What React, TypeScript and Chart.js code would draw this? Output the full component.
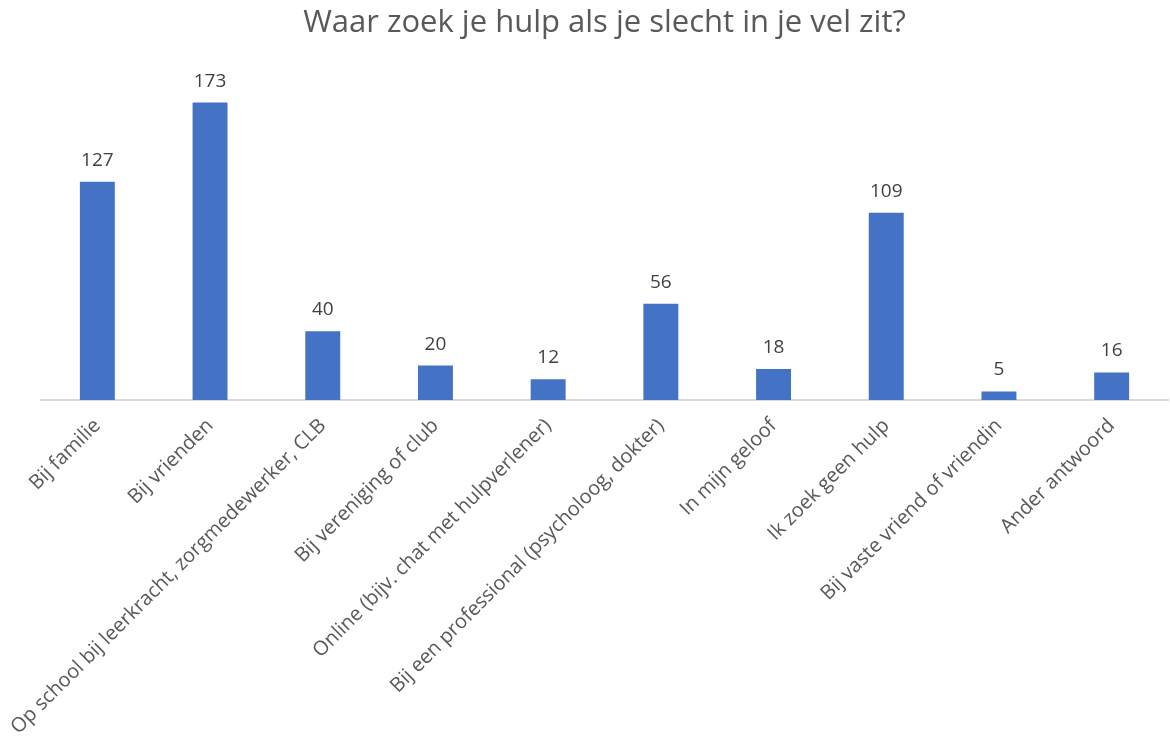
import React, { useEffect, useRef } from "react";
import { Chart, registerables } from "chart.js";

Chart.register(...registerables);

const titleText = "Waar zoek je hulp als je slecht in je vel zit?";
const categories = [
  "Bij familie",
  "Bij vrienden",
  "Op school bij leerkracht, zorgmedewerker, CLB",
  "Bij vereniging of club",
  "Online (bijv. chat met hulpverlener)",
  "Bij een professional (psycholoog, dokter)",
  "In mijn geloof",
  "Ik zoek geen hulp",
  "Bij vaste vriend of vriendin",
  "Ander antwoord",
];
const values = [127, 173, 40, 20, 12, 56, 18, 109, 5, 16];
const yMax = 200;

const FONT = "'Open Sans', sans-serif";

const dataLabelPlugin = {
  id: "dataLabels",
  afterDatasetsDraw(chart: any) {
    const ctx = chart.ctx;
    const meta = chart.getDatasetMeta(0);
    ctx.save();
    ctx.fillStyle = "#404040";
    ctx.font = `19px ${FONT}`;
    ctx.textAlign = "center";
    ctx.textBaseline = "alphabetic";
    meta.data.forEach((bar: any, i: number) => {
      ctx.fillText(String(values[i]), bar.x, bar.y - 16);
    });
    ctx.restore();
  },
};

export default function App() {
  const canvasRef = useRef<HTMLCanvasElement | null>(null);

  useEffect(() => {
    document.body.style.margin = "0";
    const canvas = canvasRef.current;
    if (!canvas) return;
    const chart = new Chart(canvas, {
      type: "bar",
      data: {
        labels: categories,
        datasets: [
          {
            data: values,
            backgroundColor: "#4472C4",
            categoryPercentage: 1,
            barPercentage: 0.31,
          },
        ],
      },
      options: {
        animation: false,
        responsive: false,
        maintainAspectRatio: false,
        layout: { padding: { left: 41, right: 2, top: 0, bottom: 0 } },
        plugins: {
          legend: { display: false },
          tooltip: { enabled: false },
          title: {
            display: true,
            text: titleText,
            color: "#595959",
            font: { family: FONT, size: 31, weight: "normal" },
            padding: { top: 5, bottom: 14 },
          },
        },
        scales: {
          x: {
            grid: { display: false },
            border: { display: true, color: "#D9D9D9", width: 2 },
            ticks: {
              color: "#595959",
              font: { family: FONT, size: 20 },
              minRotation: 45,
              maxRotation: 45,
              autoSkip: false,
              padding: 6,
            },
            afterFit: (scale: any) => {
              scale.height = 342;
            },
          },
          y: {
            display: false,
            min: 0,
            max: yMax,
          },
        },
      },
      plugins: [dataLabelPlugin],
    });
    return () => chart.destroy();
  }, []);

  return (
    <div style={{ position: "relative", width: 1170, height: 742, background: "#fff" }}>
      <canvas ref={canvasRef} width={1170} height={742} style={{ width: 1170, height: 742 }} />
    </div>
  );
}
